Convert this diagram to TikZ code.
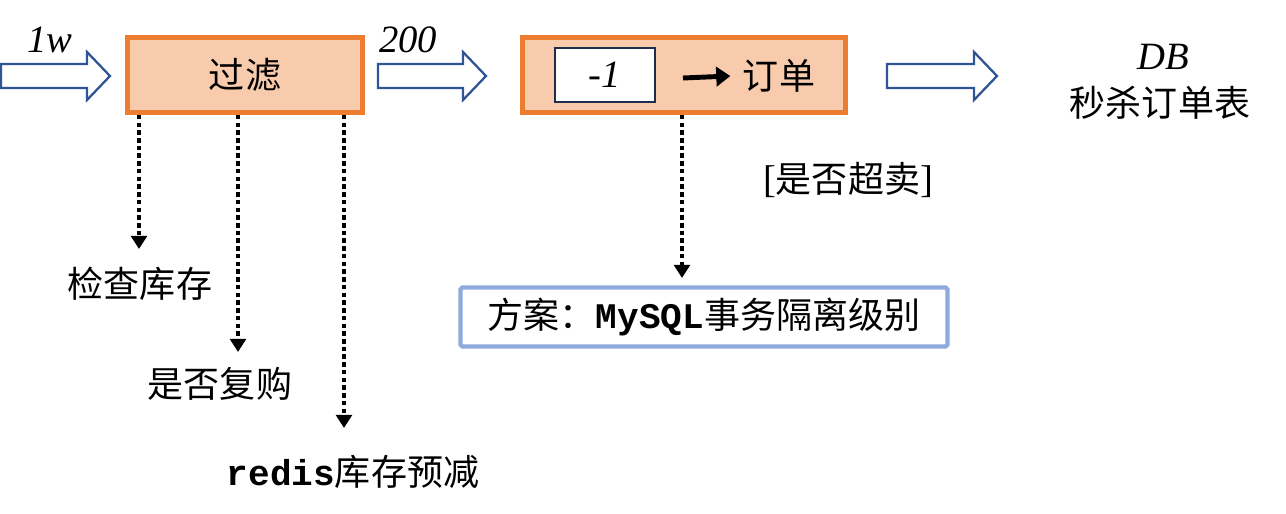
\documentclass[tikz,border=0pt]{standalone}
\usepackage{fontspec}
\setmainfont{Liberation Serif}
\setmonofont{Liberation Mono}
\newfontfamily\cjk{Noto Sans CJK SC}
\usetikzlibrary{arrows.meta}
\definecolor{boxorange}{HTML}{ED7D31}
\definecolor{boxpeach}{HTML}{F8CBAD}
\definecolor{arrowblue}{HTML}{2F5597}
\definecolor{planblue}{HTML}{8FAADC}
\definecolor{minusnavy}{HTML}{1F2D4D}

\begin{document}
\begin{tikzpicture}[x=0.02cm, y=-0.02cm,
  every node/.style={font=\cjk\fontsize{20.5}{24}\selectfont},
  procbox/.style={draw=boxorange, fill=boxpeach, line width=2.6pt, minimum height=1.5cm},
  minusbox/.style={draw=minusnavy, fill=white, line width=0.9pt, minimum width=2cm, minimum height=1.08cm},
  planbox/.style={draw=planblue, line width=2.4pt, rounded corners=1pt, minimum width=9.74cm, minimum height=1.18cm},
  latin/.style={font=\rmfamily\itshape\fontsize{22}{26}\selectfont},
  blockarrow/.style={draw=arrowblue, fill=white, line width=1.3pt, line join=miter},
  dotarrow/.style={line width=2.8pt, dash pattern=on 2.6pt off 1.8pt, -{Triangle[length=7.5pt,width=9pt]}},
  pointer/.style={line width=2.8pt, -{Triangle[length=8pt,width=11pt]}}]
  \useasboundingbox (0,0) rectangle (1286,514);

  % boxes
  \node[procbox, minimum width=4.7cm] (filter) at (245,75) {过滤};
  \node[procbox, minimum width=6.46cm] (order) at (684,75) {};
  \node[minusbox] (minus) at (605,75) {\rmfamily\itshape\fontsize{22}{26}\selectfont -1};
  \node[inner sep=0pt] (ordtxt) at (779,76) {订单};
  \node[planbox] (plan) at (704,317) {方案：{\ttfamily\bfseries MySQL}事务隔离级别};

  % labels
  \node[latin] (inflow) at (50,40) {1w};
  \node[latin] (passed) at (408,40) {200};
  \node[latin] (db) at (1163,57) {DB};
  \node (dbtable) at (1160,103) {秒杀订单表};
  \node (oversell) at (848,180) {{\rmfamily\fontsize{22}{26}\selectfont[}是否超卖{\rmfamily\fontsize{22}{26}\selectfont]}};
  \node (check) at (140,284) {检查库存};
  \node (rebuy) at (220,384) {是否复购};
  \node (redis) at (353,472) {{\ttfamily\bfseries redis}库存预减};

  % block arrows
  \foreach \x/\len in {1/109, 378/108, 887/110}
    \draw[blockarrow] (\x,64) -- (\x+\len-23,64) -- (\x+\len-23,52) -- (\x+\len,76)
      -- (\x+\len-23,100) -- (\x+\len-23,88) -- (\x,88) -- cycle;

  % dotted checks
  \coordinate (c1) at (139,249);
  \coordinate (c2) at (238,352);
  \coordinate (c3) at (344,428);
  \coordinate (c4) at (682,278);
  \draw[dotarrow] (c1 |- filter.south) -- (c1);
  \draw[dotarrow] (c2 |- filter.south) -- (c2);
  \draw[dotarrow] (c3 |- filter.south) -- (c3);
  \draw[dotarrow] (c4 |- order.south) -- (c4);

  % -1 to order
  \coordinate (ptr) at (683,78);
  \draw[pointer] (ptr) -- ([xshift=-7pt]ordtxt.west);
\end{tikzpicture}
\end{document}
